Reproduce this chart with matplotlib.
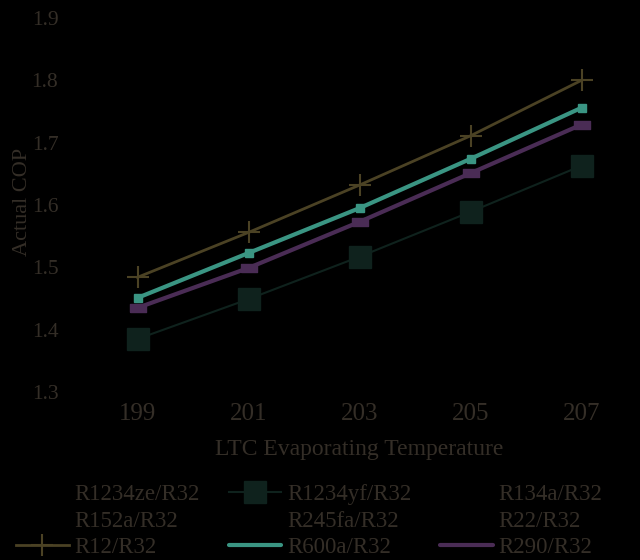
import matplotlib
matplotlib.use("Agg")
import matplotlib.pyplot as plt
from matplotlib.lines import Line2D

temps = ["199", "201", "203", "205", "207"]
r12 = [1.484, 1.556, 1.632, 1.711, 1.800]
r600a = [1.451, 1.523, 1.595, 1.674, 1.756]
r290 = [1.435, 1.499, 1.573, 1.651, 1.729]
r1234yf = [1.385, 1.449, 1.517, 1.589, 1.663]

txt = "#342e27"
c12, cyf, c600, c290 = "#4b4224", "#0f221d", "#3a9583", "#4a2c55"
plt.rcParams["font.family"] = ["Liberation Serif", "DejaVu Serif"]

fig = plt.figure(figsize=(6.4, 5.6), dpi=100, facecolor="black")
ax = fig.add_axes([82/640, 1-392/560, (637-82)/640, (392-18)/560], facecolor="black")
x = list(range(len(temps)))

flat = [(-1, -0.5), (1, -0.5), (1, 0.5), (-1, 0.5), (-1, -0.5)]
ax.plot(x, r12, color=c12, lw=2, marker="+", ms=16, mew=1.5)
ax.plot(x, r1234yf, color=cyf, lw=1.5, marker="s", ms=16)
ax.plot(x, r600a, color=c600, lw=3, marker="s", ms=6)
ax.plot(x, r290, color=c290, lw=3, marker=flat, ms=11)

ax.set_xlim(-0.5, 4.5)
ax.set_ylim(1.3, 1.9)
ax.set_yticks([1.3, 1.4, 1.5, 1.6, 1.7, 1.8, 1.9])
ax.set_yticklabels(["1.3", "1.4", "1.5", "1.6", "1.7", "1.8", "1.9"])
ax.set_xticks(x)
ax.set_xticklabels(temps)
for s in ax.spines.values():
    s.set_visible(False)
ax.tick_params(axis="y", length=0, colors=txt, labelsize=15.5, pad=17)
ax.tick_params(axis="x", length=0, colors=txt, labelsize=18, pad=8)
ax.set_ylabel("Actual COP", color=txt, fontsize=16)
ax.yaxis.set_label_coords(-0.09, 0.508)
ax.set_xlabel("LTC Evaporating Temperature", color=txt, fontsize=17, labelpad=10)

def blank(lbl):
    return Line2D([], [], color="black", label=lbl)

handles = [
    blank("R1234ze/R32"),
    blank("R152a/R32"),
    Line2D([], [], color=c12, lw=2, marker="+", ms=16, mew=1.5, label="R12/R32"),
    Line2D([], [], color=cyf, lw=1.5, marker="s", ms=16, label="R1234yf/R32"),
    blank("R245fa/R32"),
    Line2D([], [], color=c600, lw=3, solid_capstyle="round", label="R600a/R32"),
    blank("R134a/R32"),
    blank("R22/R32"),
    Line2D([], [], color=c290, lw=3, solid_capstyle="round", label="R290/R32"),
]
fig.legend(handles=handles, ncol=3, loc="upper left",
           bbox_to_anchor=(-0.007, 0.1725), frameon=False,
           fontsize=16.5, handlelength=2.3, handletextpad=0.25,
           columnspacing=1.25, labelspacing=0.24, labelcolor=txt,
           borderpad=0.4)

fig.savefig("out.png", dpi=100, facecolor="black")
